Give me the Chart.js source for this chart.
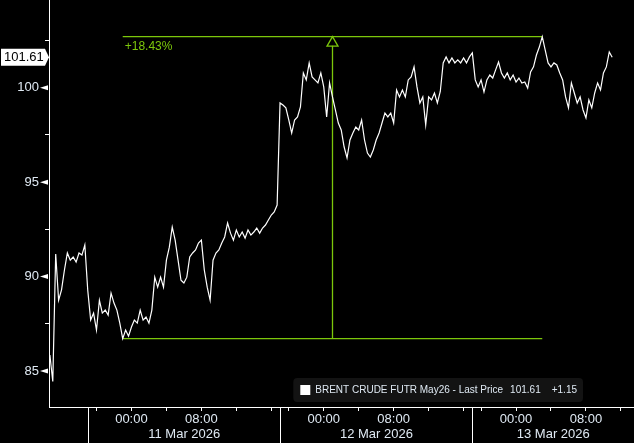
<!DOCTYPE html>
<html>
<head>
<meta charset="utf-8">
<script src="https://cdn.jsdelivr.net/npm/chart.js@4.4.1/dist/chart.umd.min.js"></script>
<style>
  html, body { margin: 0; padding: 0; background: #000; }
  #wrap { width: 634px; height: 443px; position: relative; }
</style>
</head>
<body>
<div id="wrap"><canvas id="chart"></canvas></div>
<script>
// 20-minute bars; hours are counted in trading time from the 11 Mar session open
const startHour = -4.33;
const stepHours = 1 / 3;

const prices = [
  85.85, 84.45, 91.2, 88.75, 89.3, 90.35, 91.25, 90.87, 91.04, 90.77,
  91.25, 91.14, 91.67, 89.28, 87.7, 88.07, 87.17, 88.75, 88.07, 88.23,
  87.96, 89.13, 88.6, 88.23, 87.54, 86.72, 87.17, 86.85, 87.33, 87.7,
  87.54, 88.23, 87.7, 87.86, 87.54, 88.23, 89.97, 89.44, 89.97, 89.44,
  90.87, 91.56, 92.62, 91.93, 90.87, 89.81, 89.66, 89.97, 91.04, 91.25,
  91.41, 91.78, 91.93, 90.35, 89.44, 88.75, 90.87, 91.25, 91.41, 91.78,
  92.1, 92.84, 92.3, 91.93, 92.47, 92.1, 92.36, 92.04, 92.47, 92.2,
  92.36, 92.57, 92.3, 92.57, 92.73, 93.0, 93.26, 93.42, 93.79, 99.19,
  99.08, 98.93, 98.29, 97.6, 98.29, 98.45, 98.98, 100.78, 100.41, 101.31,
  100.57, 100.41, 100.25, 100.78, 100.04, 98.45, 100.25, 99.51, 98.82, 98.13,
  97.76, 96.86, 96.28, 97.23, 97.6, 97.92, 97.76, 98.29, 97.23, 96.54,
  96.33, 96.7, 97.23, 97.6, 98.13, 98.66, 98.45, 98.66, 98.13, 99.88,
  99.51, 99.88, 99.51, 100.41, 100.57, 101.1, 100.04, 99.19, 99.51, 98.03,
  99.51, 99.35, 99.72, 99.19, 99.8, 101.31, 101.63, 101.31, 101.57, 101.31,
  101.47, 101.31, 101.57, 101.31, 101.63, 101.84, 100.41, 100.04, 100.41, 99.77,
  100.41, 100.67, 100.51, 100.94, 101.36, 100.78, 100.51, 100.78, 100.41, 100.67,
  100.3, 100.51, 100.25, 100.3, 99.98, 100.83, 101.1, 101.73, 102.15, 102.70,
  102.0, 101.31, 101.1, 101.31, 101.2, 100.78, 100.41, 99.51, 98.93, 100.25,
  99.72, 99.19, 99.51, 98.82, 98.4, 99.35, 98.93, 99.72, 100.25, 99.88,
  100.78, 101.1, 101.89, 101.61
];

const seriesName = 'BRENT CRUDE FUTR May26 - Last Price';
const netChange = 1.15;

const yTickValues = [85, 87.5, 90, 92.5, 95, 97.5, 100, 102.5];
const xTickHours = [1, 5, 9, 13, 17, 21, 23, 27, 31, 35, 39, 43, 45, 49, 53, 57, 61];
const xTickLabels = { 5: '00:00', 13: '08:00', 27: '00:00', 35: '08:00', 49: '00:00', 57: '08:00' };
const sessionStarts = [0, 22, 44];
const sessionDates = ['11 Mar 2026', '12 Mar 2026', '13 Mar 2026'];

// bars used for the swing low / swing high measurement
const swingIdx = [25, 169];

const hourAt = i => startHour + i * stepHours;
const points = prices.map((p, i) => ({ x: hourAt(i), y: p }));

const green = '#7cc70b';
const fg = '#dfe9f3';
const family = '"Liberation Sans", Arial, sans-serif';

const overlay = {
    id: 'overlay',
    beforeDraw(chart) {
        const c = chart.ctx;
        c.save();
        c.fillStyle = '#000';
        c.fillRect(0, 0, chart.width, chart.height);
        c.restore();
    },
    beforeDatasetsDraw(chart) {
        const { ctx: c, scales: { x, y } } = chart;
        const lo = swingIdx[0], hi = swingIdx[1];
        const x0 = x.getPixelForValue(hourAt(lo));
        const x1 = x.getPixelForValue(hourAt(hi));
        const yLo = y.getPixelForValue(prices[lo]);
        const yHi = y.getPixelForValue(prices[hi]);
        const xm = Math.round((x0 + x1) / 2) + 0.5;
        c.save();
        c.strokeStyle = green;
        c.lineWidth = 1.3;
        c.beginPath();
        c.moveTo(x0, yHi); c.lineTo(x1, yHi);
        c.moveTo(x0, yLo); c.lineTo(x1, yLo);
        c.moveTo(xm, yLo); c.lineTo(xm, yHi + 9);
        c.stroke();
        // hollow arrow head
        c.beginPath();
        c.moveTo(xm, yHi);
        c.lineTo(xm - 5.5, yHi + 9.5);
        c.lineTo(xm + 5.5, yHi + 9.5);
        c.closePath();
        c.stroke();
        const pct = (prices[hi] / prices[lo] - 1) * 100;
        c.fillStyle = green;
        c.font = '12px ' + family;
        c.textBaseline = 'top';
        c.fillText('+' + pct.toFixed(2) + '%', x0 + 2, yHi + 4);
        c.restore();
    },
    afterDraw(chart) {
        const { ctx: c, scales: { x, y }, chartArea: area } = chart;
        c.save();

        // session separators and date labels
        c.strokeStyle = '#fff';
        c.lineWidth = 1;
        c.fillStyle = fg;
        c.font = '13px ' + family;
        c.textAlign = 'center';
        c.textBaseline = 'middle';
        sessionStarts.forEach((h, i) => {
            const px = Math.round(x.getPixelForValue(h)) + 0.5;
            c.beginPath();
            c.moveTo(px, area.bottom);
            c.lineTo(px, chart.height);
            c.stroke();
            const end = i + 1 < sessionStarts.length ? x.getPixelForValue(sessionStarts[i + 1]) : area.right;
            c.fillText(sessionDates[i], (px + end) / 2, 434);
        });

        // pointers next to the labelled price ticks
        c.fillStyle = '#fff';
        yTickValues.filter(v => v % 5 === 0).forEach(v => {
            const py = y.getPixelForValue(v);
            c.beginPath();
            c.moveTo(area.left - 9, py);
            c.lineTo(area.left - 1, py - 2.5);
            c.lineTo(area.left - 1, py + 2.5);
            c.closePath();
            c.fill();
        });

        // last price tag
        const last = prices[prices.length - 1];
        const ly = y.getPixelForValue(last);
        c.fillStyle = '#fff';
        c.beginPath();
        c.moveTo(1, ly - 8.5);
        c.lineTo(area.left - 4, ly - 8.5);
        c.lineTo(area.left, ly);
        c.lineTo(area.left - 4, ly + 8.5);
        c.lineTo(1, ly + 8.5);
        c.closePath();
        c.fill();
        c.fillStyle = '#000';
        c.textAlign = 'left';
        c.fillText(last.toFixed(2), 4, ly + 0.5);

        // legend box
        c.font = '10px ' + family;
        const priceTxt = last.toFixed(2);
        const chgTxt = (netChange >= 0 ? '+' : '') + netChange.toFixed(2);
        const wName = c.measureText(seriesName).width;
        const wPrice = c.measureText(priceTxt).width;
        const wChg = c.measureText(chgTxt).width;
        const boxW = 7 + 10 + 5 + wName + 7 + wPrice + 11 + wChg + 6;
        const boxR = area.right - 51;
        const boxL = boxR - boxW;
        const boxT = area.bottom - 29, boxH = 24;
        c.fillStyle = '#131313';
        c.beginPath();
        c.roundRect(boxL, boxT, boxW, boxH, 4);
        c.fill();
        const my = boxT + boxH / 2;
        c.fillStyle = '#fff';
        c.fillRect(boxL + 7, my - 5, 10, 10);
        c.fillStyle = fg;
        let tx = boxL + 22;
        c.fillText(seriesName, tx, my + 0.5);
        tx += wName + 7;
        c.fillText(priceTxt, tx, my + 0.5);
        tx += wPrice + 11;
        c.fillText(chgTxt, tx, my + 0.5);

        c.restore();
    }
};

new Chart(document.getElementById('chart'), {
    type: 'line',
    data: {
        datasets: [{
            label: seriesName,
            data: points,
            borderColor: '#fff',
            borderWidth: 1.2,
            pointRadius: 0,
            tension: 0
        }]
    },
    options: {
        responsive: true,
        maintainAspectRatio: false,
        animation: false,
        devicePixelRatio: 1,
        layout: { padding: 0 },
        plugins: {
            legend: { display: false },
            tooltip: { enabled: false }
        },
        scales: {
            x: {
                type: 'linear',
                min: -4.43,
                max: 62.5,
                afterBuildTicks: s => { s.ticks = xTickHours.map(v => ({ value: v })); },
                afterFit: s => { s.height = 36; s.paddingLeft = 0; s.paddingRight = 0; },
                grid: { drawOnChartArea: false, tickLength: 4, tickColor: '#fff' },
                border: { display: true, color: '#fff', width: 1 },
                ticks: {
                    autoSkip: false,
                    maxRotation: 0,
                    padding: 1,
                    color: fg,
                    font: { family: family, size: 13 },
                    callback: v => xTickLabels[v] || ''
                }
            },
            y: {
                min: 83.1,
                max: 104.64,
                afterBuildTicks: s => { s.ticks = yTickValues.map(v => ({ value: v })); },
                afterFit: s => { s.width = 49; s.paddingTop = 0; s.paddingBottom = 0; },
                grid: {
                    drawOnChartArea: false,
                    tickLength: 4,
                    tickColor: ctx => (ctx.tick && ctx.tick.value % 5 === 0) ? 'rgba(0,0,0,0)' : '#fff'
                },
                border: { display: true, color: '#fff', width: 1 },
                ticks: {
                    padding: 6,
                    color: fg,
                    font: { family: family, size: 13 },
                    callback: v => (v % 5 === 0) ? String(v) : ''
                }
            }
        }
    },
    plugins: [overlay]
});
</script>
</body>
</html>
